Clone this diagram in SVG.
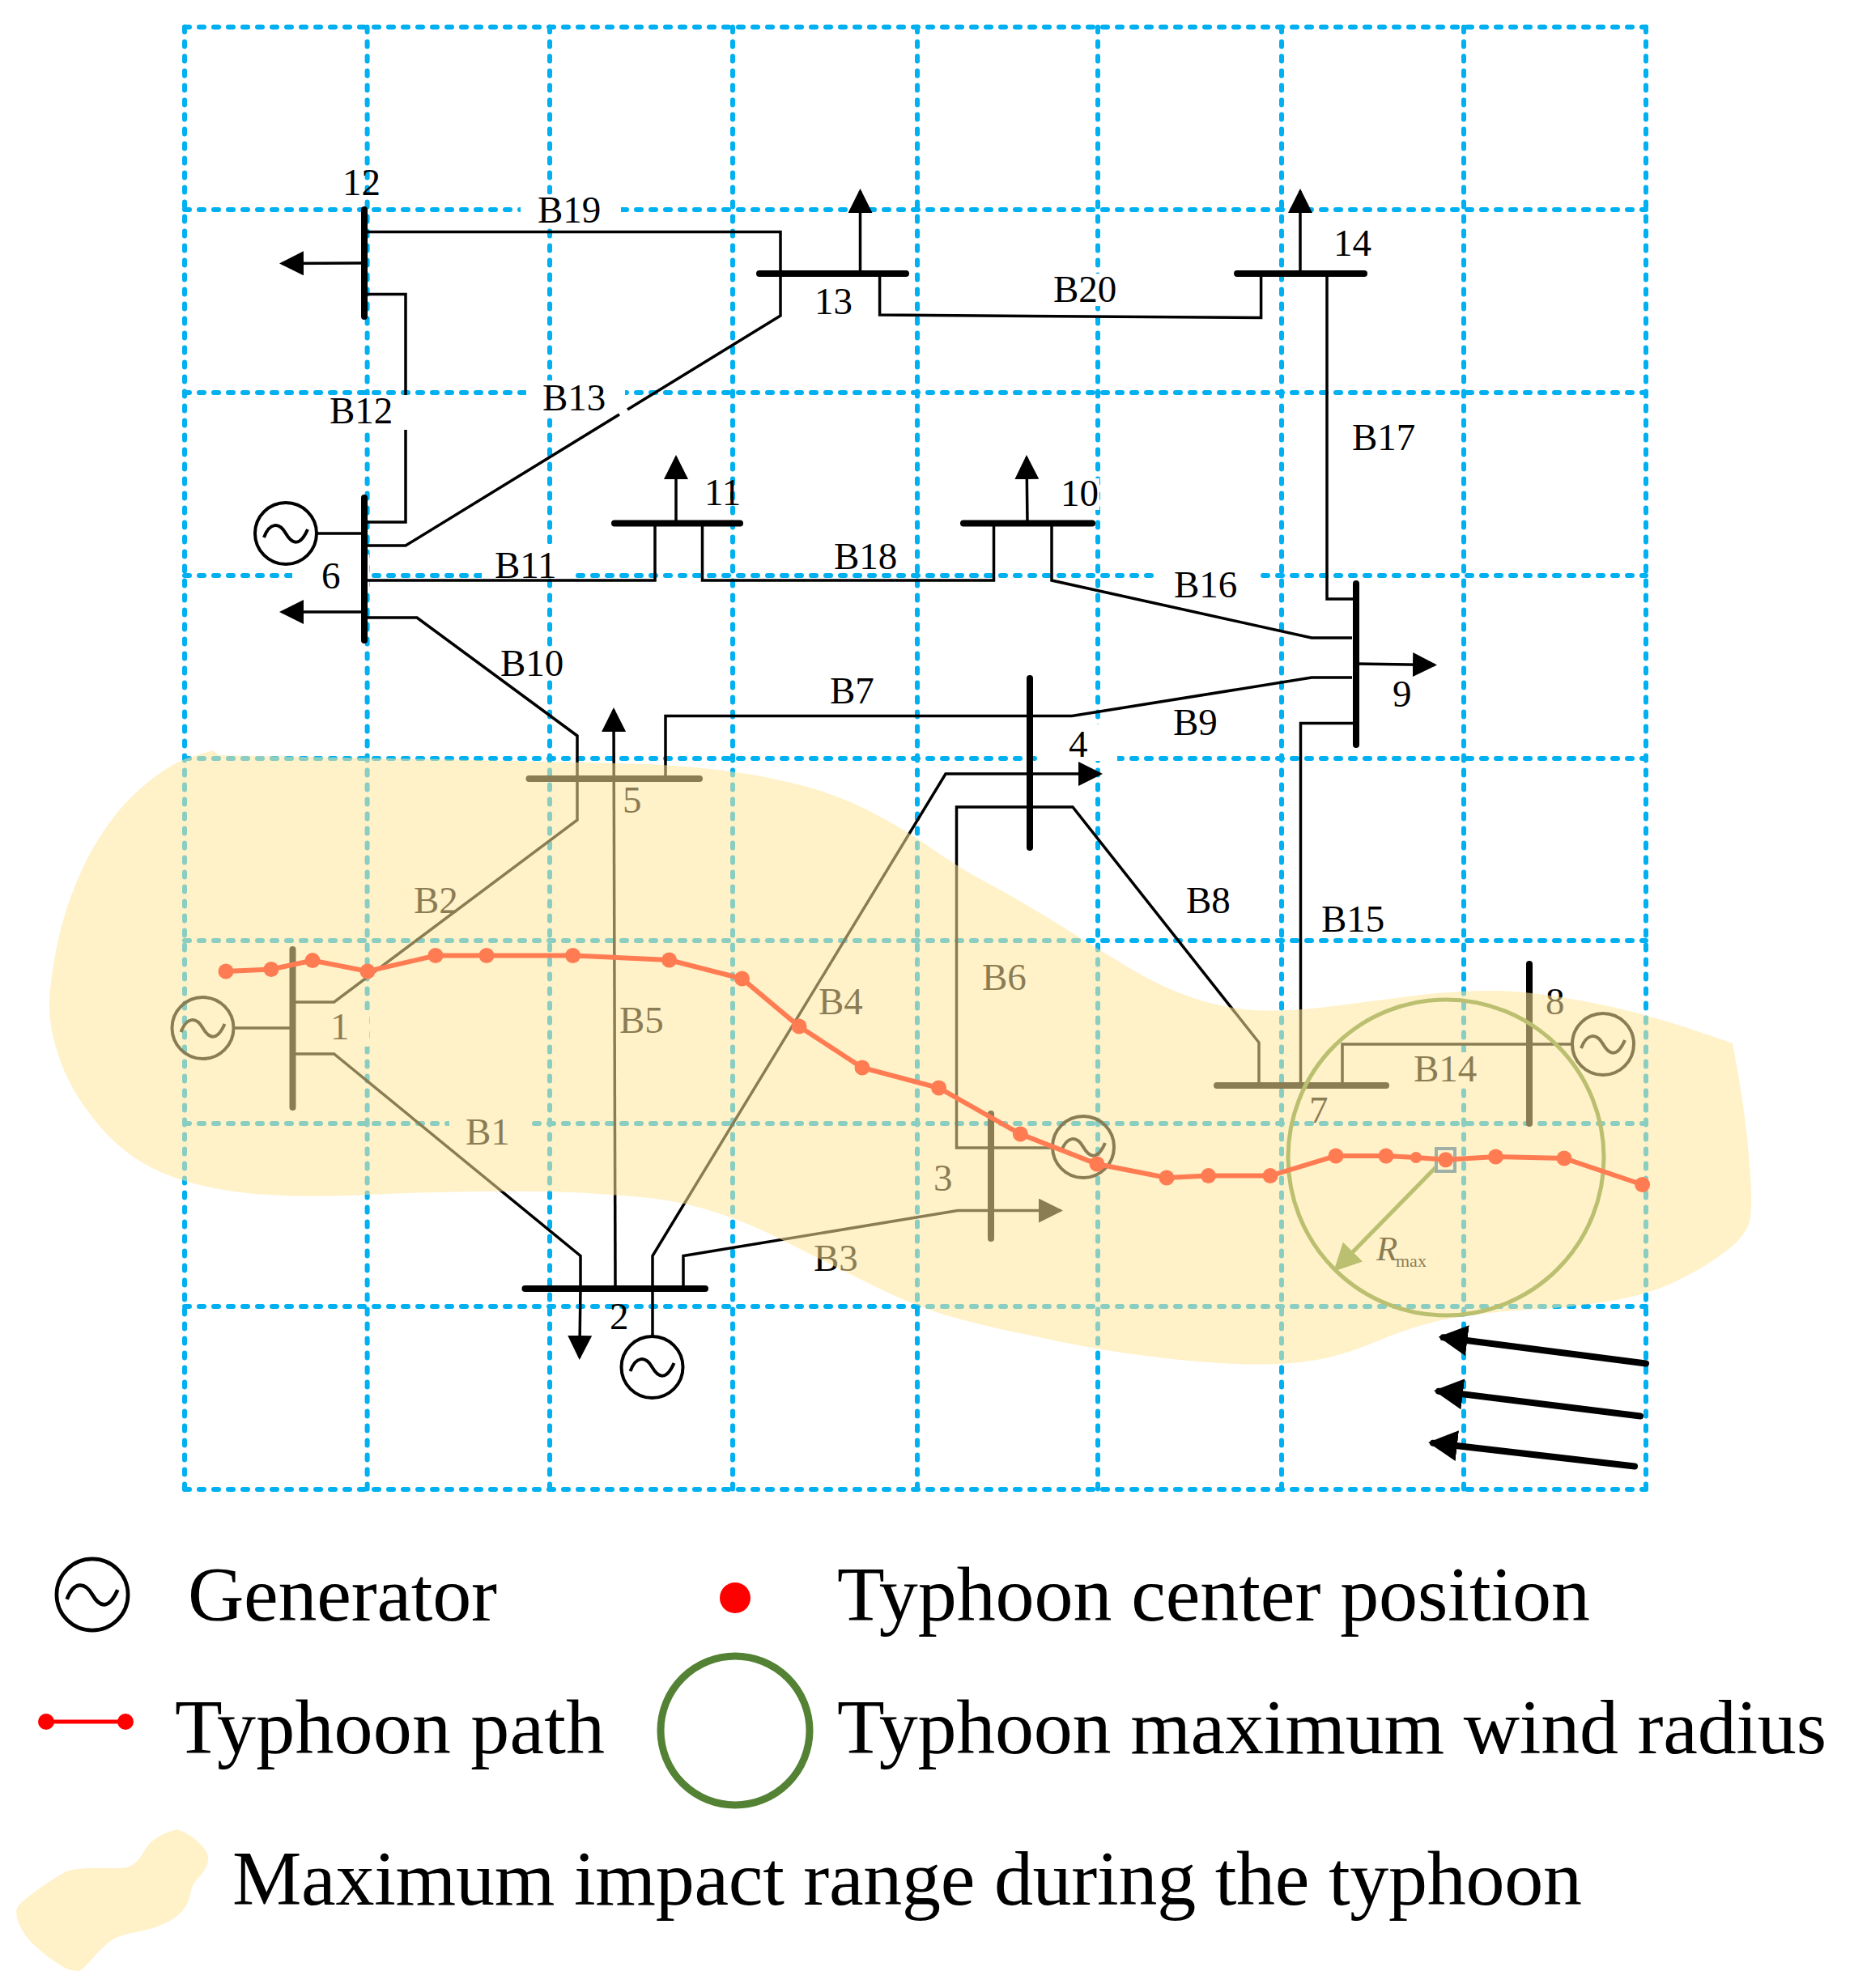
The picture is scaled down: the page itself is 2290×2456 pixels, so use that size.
<svg xmlns="http://www.w3.org/2000/svg" width="2290" height="2456" viewBox="0 0 2290 2456">
<style>
text{font-family:"Liberation Serif","Times New Roman",serif;fill:#000}
.lb{font-size:47px}
.lg{font-size:96px}
.grid line{stroke:#00B0F0;stroke-width:6;stroke-dasharray:6 12;stroke-linecap:round}
.box{fill:#fff}
.ln{fill:none;stroke:#000;stroke-width:3.5}
.bus{stroke:#000;stroke-width:8;stroke-linecap:round}
.load{stroke:#000;stroke-width:3.5;fill:none;marker-end:url(#load)}
.gen{fill:none;stroke:#000;stroke-width:4}
.tw{fill:none;stroke:#000;stroke-width:4}
.wind{stroke:#000;stroke-width:8;stroke-linecap:round;marker-end:url(#windHead)}
.path{fill:none;stroke:#f00;stroke-width:6}
.path circle{fill:#f00;stroke:none}
.ring{fill:none;stroke:#6B9440;stroke-width:5}
.cover{fill:#FFE699;fill-opacity:.54}
</style>
<defs>
<marker id="load" markerUnits="userSpaceOnUse" markerWidth="30" markerHeight="30" refX="27" refY="15" orient="auto"><path d="M0 0L30 15L0 30Z" fill="#000"/></marker>
<marker id="windHead" markerUnits="userSpaceOnUse" markerWidth="36" markerHeight="38" refX="30" refY="19" orient="auto"><path d="M0 0L36 19L0 38Z" fill="#000"/></marker>
<marker id="rHead" markerUnits="userSpaceOnUse" markerWidth="34" markerHeight="34" refX="30" refY="17" orient="auto"><path d="M0 0L34 17L0 34Z" fill="#6B9440"/></marker>
<g id="genSym"><circle class="gen" r="38"/><path class="tw" d="M-27 5C-20-14-8-14 0 0S18 16 27-5"/></g>
</defs>

<g id="grid" class="grid">
<line x1="228" y1="33.5" x2="2033" y2="33.5"/><line x1="228" y1="259" x2="2033" y2="259"/><line x1="228" y1="485" x2="2033" y2="485"/><line x1="228" y1="711" x2="2033" y2="711"/><line x1="228" y1="937" x2="2033" y2="937"/><line x1="228" y1="1162" x2="2033" y2="1162"/><line x1="228" y1="1388" x2="2033" y2="1388"/><line x1="228" y1="1614" x2="2033" y2="1614"/><line x1="228" y1="1840" x2="2033" y2="1840"/>
<line x1="228" y1="33.5" x2="228" y2="1840"/><line x1="453.6" y1="33.5" x2="453.6" y2="1840"/><line x1="679" y1="33.5" x2="679" y2="1840"/><line x1="905" y1="33.5" x2="905" y2="1840"/><line x1="1133" y1="33.5" x2="1133" y2="1840"/><line x1="1356" y1="33.5" x2="1356" y2="1840"/><line x1="1583" y1="33.5" x2="1583" y2="1840"/><line x1="1808" y1="33.5" x2="1808" y2="1840"/><line x1="2033" y1="33.5" x2="2033" y2="1840"/>
</g>

<g id="labelBoxes" class="box">
<rect x="643" y="240" width="124" height="42"/>
<rect x="650" y="470" width="122" height="44"/>
<rect x="406" y="488" width="83" height="42"/>
<rect x="361" y="685" width="95" height="42"/>
<rect x="595" y="672" width="113" height="42"/>
<rect x="1428" y="702" width="124" height="40"/>
<rect x="608" y="800" width="90" height="40"/>
<rect x="1284" y="895" width="96" height="45"/>
<rect x="1296" y="338" width="84" height="40"/>
<rect x="1309" y="591" width="49" height="39"/>
<rect x="555" y="1382" width="101" height="36"/>
<rect x="385" y="1248" width="71" height="45"/>
<rect x="1740" y="1300" width="84" height="40"/>
</g>

<g id="connectors">
<path class="ln" d="M454 363.5H501V488M501 531V645H454"/>
<path class="ln" d="M454 674H501L765 512M775 506L964 390V286.6H454"/>
<path class="ln" d="M454 717H809V650"/>
<path class="ln" d="M454 763H515L713 909V1013L412.6 1238H365"/>
<path class="ln" d="M867.5 650V717H1227.5V650"/>
<path class="ln" d="M1299 650V717L1620 788H1670"/>
<path class="ln" d="M1086.6 342V389L1557.6 392.6V342"/>
<path class="ln" d="M1639 338V740H1675"/>
<path class="ln" d="M822 962V884.6H1324L1620 837H1670"/>
<path class="ln" d="M1672 893.6H1606.5V1337"/>
<path class="ln" d="M1555 1337V1288L1325 997H1181.5V1418H1298"/>
<path class="ln" d="M1658 1337V1290H1942"/>
<path class="ln" d="M365 1302H412.6L717 1551.5V1592"/>
<path class="ln" d="M844 1588V1551.5L1183 1495.6H1224"/>
<path class="ln" d="M806 1588V1551.5L1168 956H1272"/>
<text class="lb" x="664" y="275">B19</text>
<text class="lb" x="1301" y="372.6">B20</text>
<text class="lb" x="407" y="523">B12</text>
<text class="lb" x="670" y="507">B13</text>
<text class="lb" x="1670" y="555.6">B17</text>
<text class="lb" x="611" y="714">B11</text>
<text class="lb" x="1030" y="703">B18</text>
<text class="lb" x="1450" y="738">B16</text>
<text class="lb" x="618" y="835">B10</text>
<text class="lb" x="1025" y="869">B7</text>
<text class="lb" x="1449" y="907.6">B9</text>
<text class="lb" x="1632" y="1151">B15</text>
<text class="lb" x="1465" y="1128">B8</text>
<text class="lb" x="1213" y="1223">B6</text>
<text class="lb" x="511" y="1128.4">B2</text>
<text class="lb" x="1011" y="1253">B4</text>
<text class="lb" x="765" y="1275.7">B5</text>
<text class="lb" x="1746" y="1336">B14</text>
<text class="lb" x="575" y="1414">B1</text>
<text class="lb" x="1005" y="1569.5">B3</text>
</g>

<g id="bus1"><line class="bus" x1="361.5" y1="1173" x2="361.5" y2="1368"/><line class="ln" x1="288" y1="1270" x2="358" y2="1270"/><use href="#genSym" x="250.5" y="1270"/><text class="lb" x="408" y="1284">1</text></g>
<g id="bus2"><line class="bus" x1="648.5" y1="1592" x2="871" y2="1592"/><line class="load" x1="717" y1="1592" x2="715.8" y2="1677"/><line class="ln" x1="806" y1="1592" x2="806" y2="1651"/><use href="#genSym" x="805.5" y="1689"/><text class="lb" x="753" y="1642">2</text></g>
<g id="bus3"><line class="bus" x1="1224" y1="1376" x2="1224" y2="1530"/><line class="load" x1="1224" y1="1495.6" x2="1310" y2="1495.6"/><use href="#genSym" x="1338" y="1417"/><text class="lb" x="1153" y="1471">3</text></g>
<g id="bus4"><line class="bus" x1="1272" y1="838" x2="1272" y2="1047"/><line class="load" x1="1272" y1="956" x2="1359" y2="956"/><text class="lb" x="1320" y="935">4</text></g>
<g id="bus5"><line class="bus" x1="653.5" y1="962" x2="864" y2="962"/><line class="load" x1="760" y1="1588" x2="758" y2="877"/><text class="lb" x="769" y="1004">5</text></g>
<g id="bus6"><line class="bus" x1="450" y1="615" x2="450" y2="791"/><line class="load" x1="447" y1="756" x2="348" y2="756"/><line class="ln" x1="391" y1="659" x2="447" y2="659"/><use href="#genSym" x="353" y="659"/><text class="lb" x="397" y="727">6</text></g>
<g id="bus7"><line class="bus" x1="1503" y1="1341" x2="1712" y2="1341"/><text class="lb" x="1617" y="1386.5">7</text></g>
<g id="bus8"><line class="bus" x1="1889" y1="1191" x2="1889" y2="1388"/><use href="#genSym" x="1980" y="1290"/><text class="lb" x="1909" y="1253">8</text></g>
<g id="bus9"><line class="bus" x1="1675" y1="721" x2="1675" y2="920"/><line class="load" x1="1675" y1="820" x2="1772" y2="821.5"/><text class="lb" x="1720" y="872.5">9</text></g>
<g id="bus10"><line class="bus" x1="1190" y1="646.5" x2="1349" y2="646.5"/><line class="load" x1="1269" y1="646" x2="1268" y2="565"/><text class="lb" x="1310" y="625">10</text></g>
<g id="bus11"><line class="bus" x1="759" y1="646.5" x2="914" y2="646.5"/><line class="load" x1="835" y1="646" x2="835" y2="565"/><text class="lb" x="870" y="624">11</text></g>
<g id="bus12"><line class="bus" x1="450" y1="259" x2="450" y2="391"/><line class="load" x1="447" y1="325" x2="348" y2="325.5"/><text class="lb" x="423" y="241">12</text></g>
<g id="bus13"><line class="bus" x1="938" y1="338" x2="1119" y2="338"/><line class="load" x1="1062.5" y1="338" x2="1062.5" y2="236"/><text class="lb" x="1006" y="388">13</text></g>
<g id="bus14"><line class="bus" x1="1528" y1="338" x2="1685" y2="338"/><line class="load" x1="1606" y1="338" x2="1606" y2="236"/><text class="lb" x="1647" y="316">14</text></g>

<g id="typhoon">
<circle class="ring" cx="1786" cy="1430" r="195"/>
<line x1="1774.5" y1="1441" x2="1650" y2="1568" stroke="#6B9440" stroke-width="5" marker-end="url(#rHead)"/>
<rect x="1774" y="1419" width="23" height="28" fill="none" stroke="#2E75B6" stroke-width="4"/>
<text x="1700" y="1556.7" font-size="43" font-style="italic">R</text>
<text x="1724" y="1565" font-size="22">max</text>
<g class="path">
<polyline points="279,1200 335,1197.5 386,1186.6 454,1200 538,1180.5 601,1180.5 707.6,1180.5 826.6,1186 916.5,1209 987,1268 1065,1319 1159.6,1344 1260.4,1401 1355,1438 1441,1455 1492.6,1452.6 1569,1452.6 1650,1428 1712,1428 1749,1430 1785.7,1432.7 1847.5,1429 1932,1431 2028.6,1463.5"/>
<circle cx="279" cy="1200" r="9.5"/><circle cx="335" cy="1197.5" r="9.5"/><circle cx="386" cy="1186.6" r="9.5"/><circle cx="454" cy="1200" r="9.5"/><circle cx="538" cy="1180.5" r="9.5"/><circle cx="601" cy="1180.5" r="9.5"/><circle cx="707.6" cy="1180.5" r="9.5"/><circle cx="826.6" cy="1186" r="9.5"/><circle cx="916.5" cy="1209" r="9.5"/><circle cx="987" cy="1268" r="9.5"/><circle cx="1065" cy="1319" r="9.5"/><circle cx="1159.6" cy="1344" r="9.5"/><circle cx="1260.4" cy="1401" r="9.5"/><circle cx="1355" cy="1438" r="9.5"/><circle cx="1441" cy="1455" r="9.5"/><circle cx="1492.6" cy="1452.6" r="9.5"/><circle cx="1569" cy="1452.6" r="9.5"/><circle cx="1650" cy="1428" r="9.5"/><circle cx="1712" cy="1428" r="9.5"/><circle cx="1749" cy="1430" r="7"/><circle cx="1785.7" cy="1432.7" r="9.5"/><circle cx="1847.5" cy="1429" r="9.5"/><circle cx="1932" cy="1431" r="9.5"/><circle cx="2028.6" cy="1463.5" r="9.5"/>
</g>
<line class="wind" x1="2033" y1="1684.5" x2="1782.6" y2="1652.3"/>
<line class="wind" x1="2026" y1="1749.5" x2="1777" y2="1718.7"/>
<line class="wind" x1="2019" y1="1811.5" x2="1770" y2="1782.7"/>
</g>

<path id="impact" class="cover" d="M263 927L270 933L540 938L803 944Q905 950 963 964Q1022 976 1070 1000Q1117 1024 1149 1047Q1181 1070 1218 1090Q1254 1109 1306 1141Q1357 1173 1397 1197Q1437 1221 1474 1233Q1510 1245 1547 1248Q1583 1250 1630 1245Q1678 1239 1740 1231Q1802 1223 1846 1224Q1890 1224 1962 1238Q2034 1251 2140 1289Q2156 1373 2160 1428Q2165 1482 2162 1503Q2160 1524 2134 1544Q2109 1564 2072 1582Q2036 1600 1985 1608Q1934 1616 1886 1618Q1839 1621 1795 1628Q1751 1636 1703 1656Q1656 1676 1620 1681Q1583 1687 1528 1685Q1474 1683 1415 1675Q1357 1668 1288 1653Q1218 1639 1176 1627Q1133 1615 1078 1588Q1022 1560 978 1538Q935 1515 891 1500Q847 1485 803 1480Q759 1476 708 1473Q657 1471 584 1472Q511 1473 430 1477Q350 1480 288 1472Q226 1463 186 1442Q146 1421 117 1384Q88 1348 75 1312Q62 1276 61 1248Q60 1221 70 1170Q80 1118 105 1066Q131 1015 164 983Q197 951 230 937Z"/>

<g id="legend">
<use href="#genSym" transform="translate(114 1970) scale(1.16)"/>
<text class="lg" x="232" y="2001.5" textLength="382">Generator</text>
<circle cx="908" cy="1974" r="19" fill="#f00"/>
<text class="lg" x="1034" y="2001.5" textLength="930">Typhoon center position</text>
<line x1="55" y1="2127" x2="156" y2="2127" stroke="#f00" stroke-width="5"/><circle cx="57" cy="2127" r="10" fill="#f00"/><circle cx="155" cy="2127" r="10" fill="#f00"/>
<text class="lg" x="216" y="2166" textLength="531">Typhoon path</text>
<circle cx="908" cy="2138" r="92" fill="none" stroke="#548235" stroke-width="9"/>
<text class="lg" x="1034" y="2166" textLength="1222">Typhoon maximum wind radius</text>
<path class="cover" d="M219 2260Q233 2265 243 2274Q253 2283 256 2290Q259 2297 255 2305Q252 2313 245 2320Q237 2327 235 2340Q233 2352 225 2361Q217 2370 204 2376Q190 2383 168 2387Q145 2391 135 2399Q125 2407 114 2420Q103 2432 98 2435Q88 2435 80 2431Q73 2427 60 2418Q47 2408 37 2398Q27 2387 22 2373Q18 2360 23 2354Q28 2348 50 2332Q72 2317 82 2312Q93 2308 115 2308Q137 2308 147 2308Q157 2308 163 2304Q170 2300 175 2292Q180 2283 185 2277Q190 2272 198 2268Q207 2263 219 2260Z"/>
<text class="lg" x="287" y="2353" textLength="1667">Maximum impact range during the typhoon</text>
</g>
</svg>
